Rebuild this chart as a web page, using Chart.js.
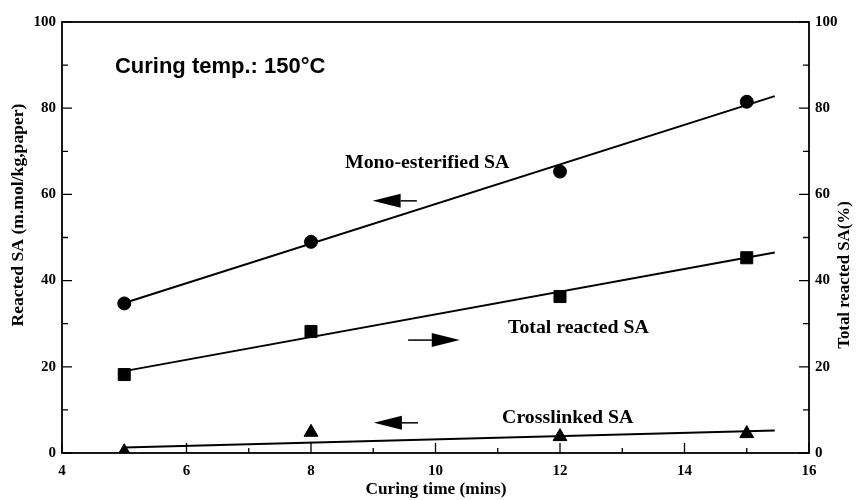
<!DOCTYPE html>
<html><head><meta charset="utf-8">
<script src="https://cdn.jsdelivr.net/npm/chart.js@4/dist/chart.umd.min.js"></script>
<style>html,body{margin:0;padding:0;background:#fff}</style>
</head><body>
<canvas id="c" width="860" height="500"></canvas>
<script>
// ---- data ----
const curingTime = [5, 8, 12, 15];
const monoEsterified = [34.7, 49, 65.3, 81.5];      // left axis
const totalReacted = [18.2, 28.2, 36.3, 45.3];      // right axis (%)
const crosslinked = [0.3, 4.8, 3.8, 4.5];           // left axis
const fitX = [5, 15.45];
const monoFit = [34.8, 82.8];
const totalFit = [19.0, 46.5];
const crossFit = [1.3, 5.2];
const xTickValues = [4, 6, 8, 10, 12, 14, 16];
const yTickValues = [0, 20, 40, 60, 80, 100];
const xTitle = 'Curing time (mins)';
const yTitle = 'Reacted SA (m.mol/kg,paper)';
const y2Title = 'Total reacted SA(%)';
const seriesNames = ['Mono-esterified SA', 'Total reacted SA', 'Crosslinked SA'];
const conditionText = 'Curing temp.: 150°C';

// ---- annotation layout (data coordinates) ----
const notes = [
  {text: seriesNames[0], x: 8.546, y: 66.1},
  {text: seriesNames[1], x: 11.165, y: 27.9},
  {text: seriesNames[2], x: 11.07, y: 7.0}
];
const arrows = [
  {from: 9.70, to: 8.99, y: 58.5},
  {from: 9.56, to: 10.39, y: 26.2},
  {from: 9.72, to: 9.01, y: 7.0}
];

const SERIF = '"Liberation Serif", "Times New Roman", serif';
const SANS = '"Liberation Sans", Arial, sans-serif';

function pts(xs, ys) { return xs.map((x, i) => ({x: x, y: ys[i]})); }

function stretchedText(ctx, text, x, y, rot, sx) {
  ctx.save();
  ctx.translate(x, y);
  if (rot) ctx.rotate(rot);
  ctx.scale(sx, 1);
  ctx.fillText(text, 0, 0);
  ctx.restore();
}

const framePlugin = {
  id: 'frame',
  afterDatasetsDraw(chart) {
    const {ctx, chartArea: a, scales} = chart;
    const sx = scales.x, sy = scales.y, sy2 = scales.y2;
    ctx.save();
    ctx.strokeStyle = '#000';
    ctx.fillStyle = '#000';
    // frame
    ctx.lineWidth = 1.8;
    ctx.strokeRect(a.left, a.top, a.right - a.left, a.bottom - a.top);
    // inward ticks
    ctx.lineWidth = 1.3;
    ctx.beginPath();
    for (let v = 4; v <= 16; v += 1) {
      const px = sx.getPixelForValue(v);
      const len = (v % 2 === 0) ? 10 : 5;
      ctx.moveTo(px, a.bottom); ctx.lineTo(px, a.bottom - len);
    }
    for (let v = 0; v <= 100; v += 10) {
      const len = (v % 20 === 0) ? 10 : 6;
      const py = sy.getPixelForValue(v);
      ctx.moveTo(a.left, py); ctx.lineTo(a.left + len, py);
      const py2 = sy2.getPixelForValue(v);
      ctx.moveTo(a.right, py2); ctx.lineTo(a.right - len, py2);
    }
    ctx.stroke();

    // condition text
    ctx.font = 'bold 22px ' + SANS;
    ctx.textBaseline = 'alphabetic';
    ctx.textAlign = 'left';
    ctx.fillText(conditionText, sx.getPixelForValue(4.85), sy.getPixelForValue(88.2));

    // series notes (slightly stretched serif, like the scan)
    ctx.font = 'bold 18px ' + SERIF;
    notes.forEach(n => {
      stretchedText(ctx, n.text, sx.getPixelForValue(n.x), sy.getPixelForValue(n.y), 0, 1.1);
    });

    // arrows
    arrows.forEach(ar => {
      const x0 = sx.getPixelForValue(ar.from), x1 = sx.getPixelForValue(ar.to);
      const py = sy.getPixelForValue(ar.y);
      const dir = Math.sign(x1 - x0);
      const headLen = 28, half = 7;
      ctx.lineWidth = 1.5;
      ctx.beginPath();
      ctx.moveTo(x0, py); ctx.lineTo(x1 - dir * headLen, py);
      ctx.stroke();
      ctx.beginPath();
      ctx.moveTo(x1, py);
      ctx.lineTo(x1 - dir * headLen, py - half);
      ctx.lineTo(x1 - dir * headLen, py + half);
      ctx.closePath();
      ctx.fill();
    });

    // axis titles
    ctx.font = 'bold 16px ' + SERIF;
    ctx.textAlign = 'center';
    ctx.textBaseline = 'middle';
    stretchedText(ctx, xTitle, 436, 490, 0, 1.08);
    stretchedText(ctx, yTitle, 19, 215, -Math.PI / 2, 1.1);
    stretchedText(ctx, y2Title, 845, 275, -Math.PI / 2, 1.05);
    ctx.restore();
  }
};

const tickFont = {family: SERIF, size: 15, weight: 'bold'};

new Chart(document.getElementById('c'), {
  type: 'scatter',
  data: {
    datasets: [
      {type: 'line', data: pts(fitX, monoFit), yAxisID: 'y', borderColor: '#000', borderWidth: 2, pointRadius: 0, fill: false},
      {type: 'line', data: pts(fitX, totalFit), yAxisID: 'y2', borderColor: '#000', borderWidth: 2, pointRadius: 0, fill: false},
      {type: 'line', data: pts(fitX, crossFit), yAxisID: 'y', borderColor: '#000', borderWidth: 2, pointRadius: 0, fill: false},
      {label: seriesNames[0], data: pts(curingTime, monoEsterified), yAxisID: 'y', pointStyle: 'circle', pointRadius: 6.5, backgroundColor: '#000', borderColor: '#000'},
      {label: seriesNames[1], data: pts(curingTime, totalReacted), yAxisID: 'y2', pointStyle: 'rect', pointRadius: 8.5, backgroundColor: '#000', borderColor: '#000'},
      {label: seriesNames[2], data: pts(curingTime, crosslinked), yAxisID: 'y', pointStyle: 'triangle', pointRadius: 8, backgroundColor: '#000', borderColor: '#000'}
    ]
  },
  options: {
    responsive: false,
    animation: false,
    layout: {padding: {top: 22, left: 0, right: 0, bottom: 0}},
    plugins: {legend: {display: false}, tooltip: {enabled: false}},
    scales: {
      x: {
        type: 'linear', min: 4, max: 16,
        afterBuildTicks: s => { s.ticks = xTickValues.map(v => ({value: v})); },
        ticks: {font: tickFont, color: '#000', padding: 9, maxRotation: 0},
        grid: {display: false, drawTicks: false},
        border: {display: false},
        afterFit: s => { s.height = 47; }
      },
      y: {
        type: 'linear', position: 'left', min: 0, max: 100,
        afterBuildTicks: s => { s.ticks = yTickValues.map(v => ({value: v})); },
        ticks: {font: tickFont, color: '#000', padding: 6},
        grid: {display: false, drawTicks: false},
        border: {display: false},
        afterFit: s => { s.width = 62; }
      },
      y2: {
        type: 'linear', position: 'right', min: 0, max: 100,
        afterBuildTicks: s => { s.ticks = yTickValues.map(v => ({value: v})); },
        ticks: {font: tickFont, color: '#000', padding: 6},
        grid: {display: false, drawTicks: false},
        border: {display: false},
        afterFit: s => { s.width = 51; }
      }
    }
  },
  plugins: [framePlugin]
});
</script>
</body></html>
